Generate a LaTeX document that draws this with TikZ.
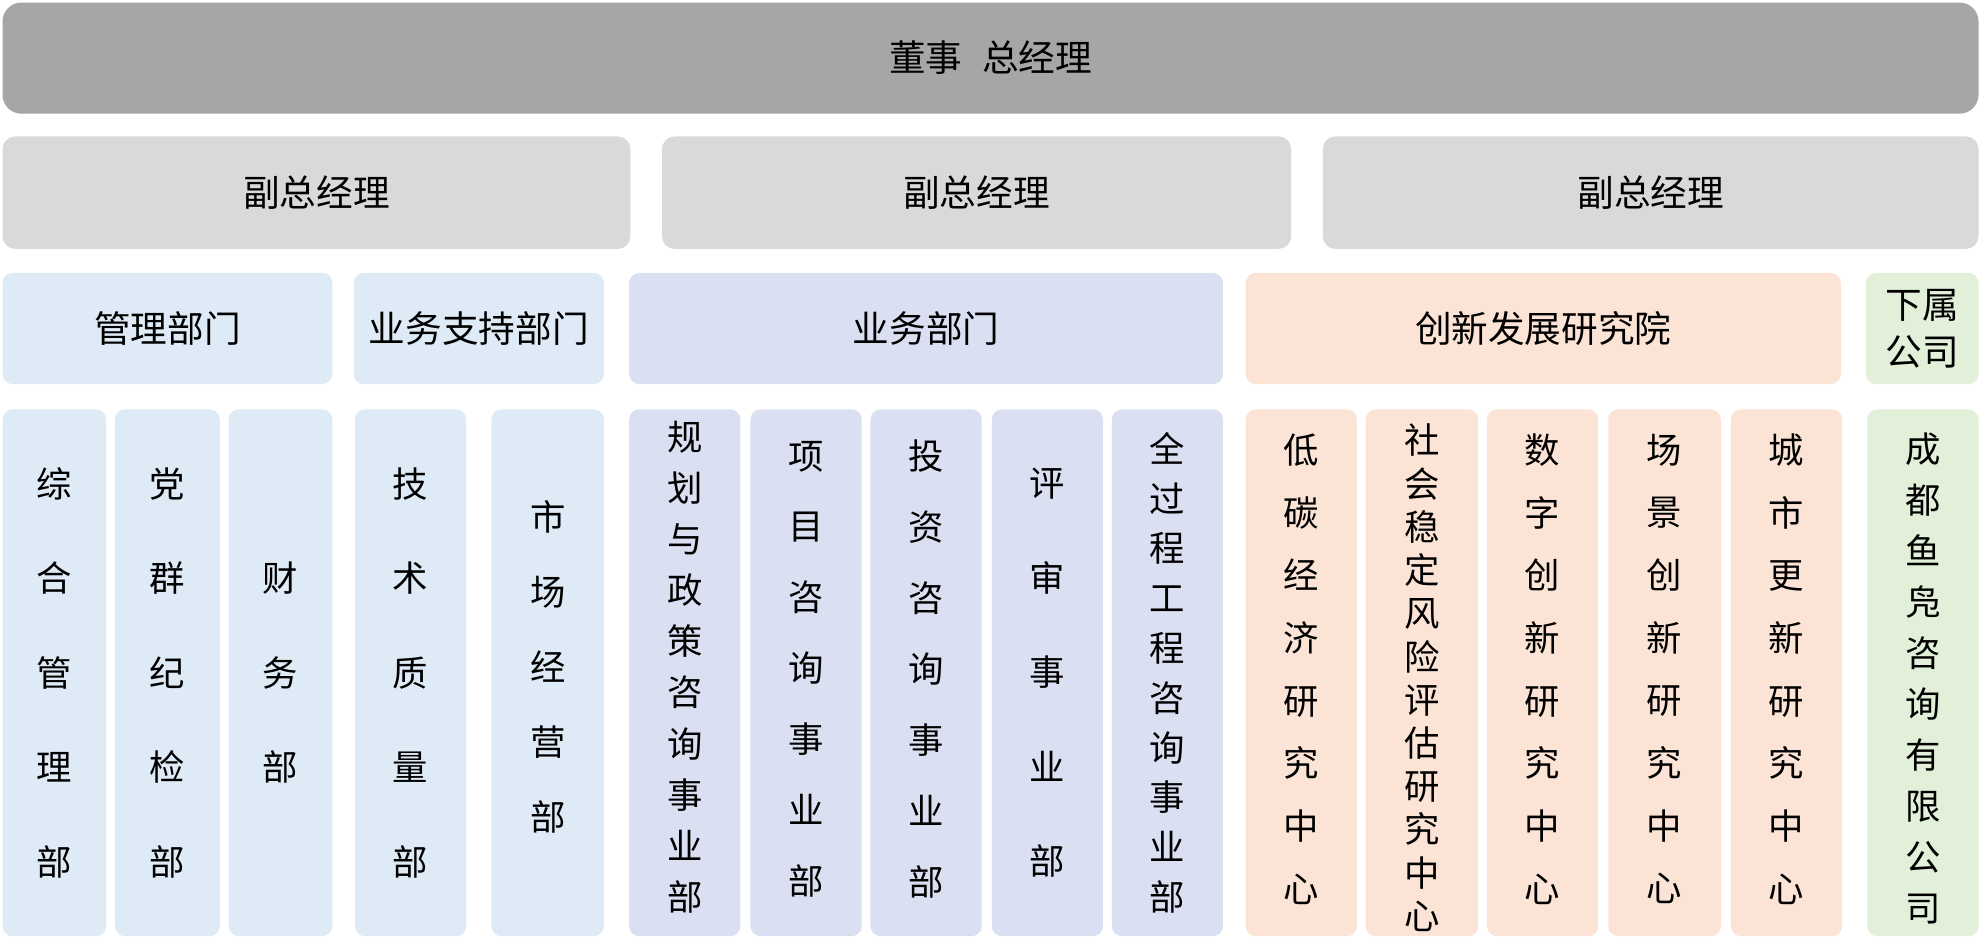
\documentclass[tikz,border=0pt]{standalone}
\usepackage{fontspec}
\newfontfamily\cjk[WordSpace=2.4]{Noto Sans CJK SC}
\definecolor{topgray}{HTML}{A6A6A6}
\definecolor{vpgray}{HTML}{D9D9D9}
\definecolor{mblue}{HTML}{DEEAF6}
\definecolor{lav}{HTML}{DAE0F2}
\definecolor{peach}{HTML}{FBE4D6}
\definecolor{lgreen}{HTML}{E2EFD9}
\tikzset{
  base/.style={inner sep=0pt, outer sep=0pt, text=black, draw=none},
  hfont/.style={font=\cjk\fontsize{29bp}{37bp}\selectfont, align=center},
  vt/.style={align=center, font=\cjk\fontsize{28bp}{#1bp}\selectfont},
  txt/.style={base},
  topbox/.style={base, fill=topgray, rounded corners=15bp},
  vpbox/.style={base, fill=vpgray, rounded corners=10bp},
  bluebox/.style={base, fill=mblue, rounded corners=8bp},
  lavbox/.style={base, fill=lav, rounded corners=8bp},
  peachbox/.style={base, fill=peach, rounded corners=8bp},
  greenbox/.style={base, fill=lgreen, rounded corners=8bp},
}
% name, x1, y1, x2, y2, box style, text style, vertical offset (down), text
\newcommand\bx[9]{%
  \node[#6, minimum width=#4bp-#2bp, minimum height=#5bp-#3bp] (#1) at ({(#2+#4)/2},{(#3+#5)/2}) {};
  \node[txt, #7, yshift=-#8bp] (#1t) at (#1.center) {#9};}
\begin{document}
\begin{tikzpicture}[x=1bp, y=-1bp]
\useasboundingbox[fill=white] (0,0) rectangle (1568,752.7);
% top
\bx{gm}{2}{2}{1566}{90}{topbox}{hfont}{0}{董事 总经理}
% vice presidents
\bx{vp1}{2}{108}{499}{197}{vpbox}{hfont}{0}{副总经理}
\bx{vp2}{524}{108}{1022}{197}{vpbox}{hfont}{0}{副总经理}
\bx{vp3}{1047}{108}{1566}{197}{vpbox}{hfont}{0}{副总经理}
% heads
\bx{h1}{2}{216}{263}{304}{bluebox}{hfont}{0}{管理部门}
\bx{h2}{280}{216}{478}{304}{bluebox}{hfont}{0}{业务支持部门}
\bx{h3}{498}{216}{968}{304}{lavbox}{hfont}{0}{业务部门}
\bx{h4}{986}{216}{1457}{304}{peachbox}{hfont}{0}{创新发展研究院}
\bx{h5}{1477}{216}{1566}{304}{greenbox}{hfont}{0}{下属\\公司}
% columns
\bx{c1}{2}{324}{84}{741}{bluebox}{vt=74.8}{0}{综\\合\\管\\理\\部}
\bx{c2}{91}{324}{174}{741}{bluebox}{vt=74.8}{0}{党\\群\\纪\\检\\部}
\bx{c3}{181}{324}{263}{741}{bluebox}{vt=74.8}{0}{财\\务\\部}
\bx{c4}{281}{324}{369}{741}{bluebox}{vt=74.8}{0}{技\\术\\质\\量\\部}
\bx{c5}{389}{324}{478}{741}{bluebox}{vt=59.4}{-4.5}{市\\场\\经\\营\\部}
\bx{c6}{498}{324}{586}{741}{lavbox}{vt=40.5}{-4.5}{规\\划\\与\\政\\策\\咨\\询\\事\\业\\部}
\bx{c7}{594}{324}{682}{741}{lavbox}{vt=56.1}{-3}{项\\目\\咨\\询\\事\\业\\部}
\bx{c8}{689}{324}{777}{741}{lavbox}{vt=56.1}{-3}{投\\资\\咨\\询\\事\\业\\部}
\bx{c9}{785}{324}{873}{741}{lavbox}{vt=74.9}{0}{评\\审\\事\\业\\部}
\bx{c10}{880}{324}{968}{741}{lavbox}{vt=39.4}{0}{全\\过\\程\\工\\程\\咨\\询\\事\\业\\部}
\bx{c11}{986}{324}{1074}{741}{peachbox}{vt=49.6}{-3}{低\\碳\\经\\济\\研\\究\\中\\心}
\bx{c12}{1081}{324}{1170}{741}{peachbox}{vt=34.2}{4}{社\\会\\稳\\定\\风\\险\\评\\估\\研\\究\\中\\心}
\bx{c13}{1177}{324}{1265}{741}{peachbox}{vt=49.6}{-3}{数\\字\\创\\新\\研\\究\\中\\心}
\bx{c14}{1273}{324}{1362}{741}{peachbox}{vt=49.6}{-3}{场\\景\\创\\新\\研\\究\\中\\心}
\bx{c15}{1370}{324}{1458}{741}{peachbox}{vt=49.6}{-3}{城\\市\\更\\新\\研\\究\\中\\心}
\bx{c16}{1478}{324}{1566}{741}{greenbox}{vt=40.3}{4.5}{成\\都\\鱼\\凫\\咨\\询\\有\\限\\公\\司}
\end{tikzpicture}
\end{document}
